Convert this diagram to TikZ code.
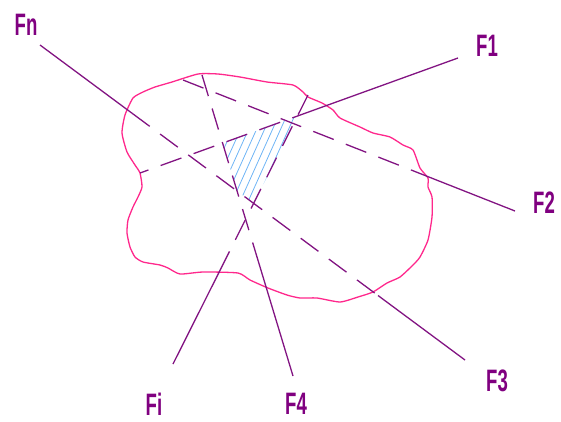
\documentclass[tikz,border=0pt]{standalone}
\usepackage{fontspec}
\setmainfont{Liberation Sans}
\usetikzlibrary{calc}
\definecolor{lnpurple}{RGB}{130,20,130}
\definecolor{blobpink}{RGB}{255,40,140}
\definecolor{hatchblue}{RGB}{110,180,245}
\definecolor{txtpurple}{RGB}{128,0,128}
\begin{document}
\begin{tikzpicture}[x=1pt,y=-1pt,
  fline/.style={draw=lnpurple,line width=1.3pt},
  fdash/.style={fline,dash pattern=on 22pt off 13pt},
  lbl/.style={text=txtpurple,font=\fontsize{31}{31}\selectfont\bfseries,inner sep=0pt},
  blob/.style={draw=blobpink,line width=1.3pt},
  hatchline/.style={draw=hatchblue,line width=0.8pt}]
\useasboundingbox (0,0) rectangle (561,421);

% line end points and blob crossings
\coordinate (n0) at (40,45);   \coordinate (n1) at (132,113.2);
\coordinate (n2) at (378,295.5); \coordinate (n3) at (465,360);
\coordinate (a0) at (458,58);  \coordinate (a1) at (313,110.4);
\coordinate (a2) at (140,173);
\coordinate (b0) at (183,80);  \coordinate (b1) at (420,173.5);
\coordinate (b2) at (515,211);
\coordinate (c0) at (202,75);  \coordinate (c1) at (257,257);
\coordinate (c2) at (293,376);
\coordinate (i0) at (308,95);  \coordinate (i1) at (228.7,253);
\coordinate (i2) at (173,364);

% hatched region
\coordinate (hA) at (intersection of a0--a2 and c0--c2);
\coordinate (hB) at (intersection of a0--a2 and i0--i2);
\coordinate (hC) at (intersection of n0--n3 and i0--i2);
\coordinate (hD) at (intersection of n0--n3 and c0--c2);
\begin{scope}
  \clip (hA) -- (hB) -- (hC) -- (hD) -- cycle;
  \foreach \x in {170,178,...,306} \draw[hatchline] (\x,215) -- ++(47.25,-105);
\end{scope}

% blob
\draw[blob] plot[smooth cycle, tension=0.35] coordinates {
 (172,82) (198,74) (218,74) (240,77) (267,82) (293,85) (303,92) (308,97)
 (322,103) (333,110) (340,118) (360,127) (373,133) (390,137) (403,145)
 (413,150) (420,168) (428,178) (428,187) (432,197) (432,217) (428,240)
 (420,257) (413,265) (400,277) (387,283) (373,292) (358,297) (340,302)
 (317,298) (300,298) (287,295) (268,288) (250,280) (238,273) (203,272)
 (180,274) (168,268) (160,265) (143,262) (135,257) (130,247) (127,233)
 (128,220) (133,207) (138,197) (142,187) (140,173) (135,165) (127,152)
 (122,133) (125,115) (133,98) (143,92) (155,87)};

% lines Fn - F3
\draw[fline] (n0) -- (n1);
\draw[fdash] (n1) -- (n2);
\draw[fline] (n2) -- (n3);
% line F1
\draw[fline] (a0) -- (a1);
\draw[fdash] (a1) -- (a2);
% line F2
\draw[fdash] (b0) -- (b1);
\draw[fline] (b1) -- (b2);
% line F4
\draw[fdash] (c0) -- (c1);
\draw[fline] (c1) -- (c2);
% line Fi
\draw[fdash] (i0) -- (i1);
\draw[fline] (i1) -- (i2);

% labels
\node[lbl] (lFn) at (26,25)  {\scalebox{0.6}[1]{Fn}};
\node[lbl] (lF1) at (487,46) {\scalebox{0.6}[1]{F1}};
\node[lbl] (lF2) at (544,203) {\scalebox{0.6}[1]{F2}};
\node[lbl] (lF3) at (497,381) {\scalebox{0.6}[1]{F3}};
\node[lbl] (lFi) at (154,404) {\scalebox{0.6}[1]{Fi}};
\node[lbl] (lF4) at (296,404) {\scalebox{0.6}[1]{F4}};
\end{tikzpicture}
\end{document}
